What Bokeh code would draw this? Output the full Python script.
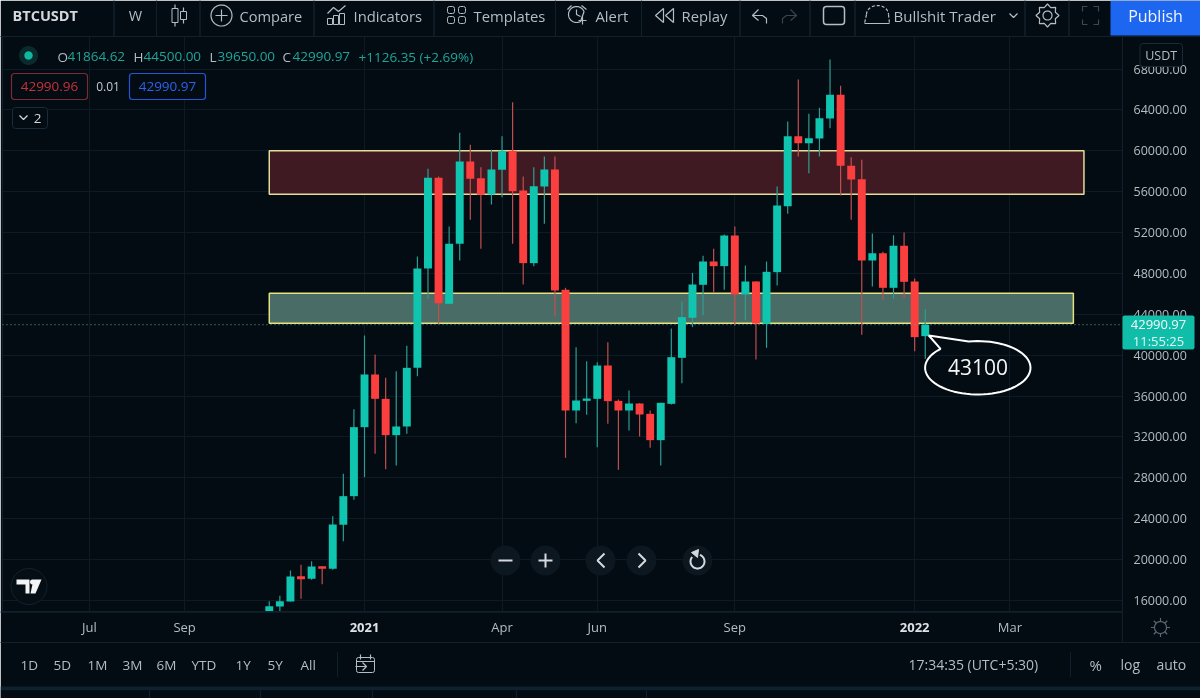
import numpy as np
import pandas as pd
from bokeh.embed import file_html
from bokeh.resources import INLINE
from bokeh.plotting import figure
from bokeh.models import (Range1d, LinearAxis, FixedTicker, NumeralTickFormatter, ColumnDataSource,
                          Label, BoxAnnotation, PolyAnnotation, Span, Grid)

# ---------- data ----------
start_week = "2020-11-02"
highs = [15935,16457,18936,19491,19850,19360,24253,28396,34724,41933,40074,37791,38443,40922,49664,58243,57493,52600,61766,60592,
         58406,60103,61440,64767,57493,58406,59450,59450,46597,40791,39421,39323,41280,35670,36550,35311,34593,35343,42618,45260,
         48065,49729,50414,51817,52600,48783,47250,49174,56514,62875,66985,63625,64212,68942,66365,59385,59124,51915,50121,51752,
         52012,47511,44500]
lows = [14957,14957,15903,16163,18023,17599,19001,21807,25852,28070,30353,28853,29211,32310,37954,45521,43075,45032,49273,53252,
        50414,54753,55471,50904,46924,48718,52861,43793,29961,33354,34169,31005,33288,28787,32636,32049,30940,29211,35180,37268,
        42748,43923,46141,46402,42911,43401,39584,40726,46826,53839,59450,57819,59450,62223,55633,53252,41998,46728,45423,45521,
        45619,40400,39650]
opens = [14957,15413,15903,18382,18121,19360,19099,23405,26210,32963,38117,35735,32180,33028,38769,48490,57363,45032,50904,58961,
         57330,55732,58145,60005,56123,49012,56514,58178,46402,34593,35539,35735,38997,35539,34593,35278,34267,31690,35246,39747,
         43662,46891,49174,48718,51719,45945,47217,43074,48131,54589,61440,60755,61211,63169,65485,58536,57232,49272,49990,46598,
         50708,47217,41864.62]
closes = [15446,15935,18349,18088,19328,19099,23438,26210,32963,38117,35735,32180,33028,38769,48490,57363,45097,50904,58961,57265,
          55699,58178,60005,56058,49012,56547,58178,46337,34593,35572,35768,38997,35507,34593,35278,34202,31690,35343,39812,43727,
          46924,49174,48718,51719,45945,47217,43107,48163,54655,61440,60755,61244,63201,65485,58536,57199,49272,49990,46598,50708,
          47185,41770,42990.97]
price_ticks = list(range(16000, 68001, 4000))
month_ticks = {"2020-07-06": "Jul", "2020-09-07": "Sep", "2021-04-05": "Apr", "2021-06-07": "Jun",
               "2021-09-06": "Sep", "2022-03-07": "Mar"}
year_ticks = {"2021-01-04": "2021", "2022-01-03": "2022"}
red_zone = ("2020-11-02", "2022-04-25", 60000, 55760)
green_zone = ("2020-11-02", "2022-04-18", 46073, 43137)
last_price = 42990.97

BG = "#030b13"; GRID = "#0e1a24"; SEP = "#12202b"
TXT = "#b4bcc4"; GREEN = "#0fc5af"; RED = "#fb3f3f"; WG = "#2c9d92"; WR = "#c24f4f"
FONT = "Open Sans"

def ms(s):
    return pd.Timestamp(s).value / 1e6

DAY = 86400000.0
dates = pd.date_range(start_week, periods=len(opens), freq="7D")
xs = np.array([ms(d) for d in dates])
is_up = np.array(closes) >= np.array(opens)

p = figure(width=1200, height=698, output_backend="svg", toolbar_location=None,
           x_range=Range1d(ms("2021-01-04") - 239.5 * DAY, ms("2021-01-04") + 501.5 * DAY),
           y_range=Range1d(14924, 71190), x_axis_type=None, y_axis_type=None,
           min_border_left=2, min_border_right=78, min_border_top=36, min_border_bottom=87,
           background_fill_color=BG, border_fill_color=BG, outline_line_color=SEP)
p.styles = {"position": "fixed", "left": "0", "top": "0"}

yax = LinearAxis(ticker=FixedTicker(ticks=price_ticks), formatter=NumeralTickFormatter(format="0.00"),
                 major_label_text_color=TXT, major_label_text_font=FONT, major_label_text_font_size="12.5px",
                 major_tick_line_color=None, minor_tick_line_color=None, axis_line_color=SEP,
                 major_label_standoff=5)
p.add_layout(yax, "right")

all_date_ticks = [ms(k) for k in month_ticks] + [ms(k) for k in year_ticks]
xax = LinearAxis(ticker=FixedTicker(ticks=[ms(k) for k in month_ticks]),
                 major_label_overrides={ms(k): v for k, v in month_ticks.items()},
                 major_label_text_color=TXT, major_label_text_font=FONT, major_label_text_font_size="13px",
                 major_tick_line_color=None, minor_tick_line_color=None, axis_line_color=None, major_label_standoff=0)
p.add_layout(xax, "below")
xax2 = LinearAxis(ticker=FixedTicker(ticks=[ms(k) for k in year_ticks]),
                  major_label_overrides={ms(k): v for k, v in year_ticks.items()},
                  major_label_text_color="#dfe3e6", major_label_text_font=FONT, major_label_text_font_size="13px",
                  major_label_text_font_style="bold",
                  major_tick_line_color=None, minor_tick_line_color=None, axis_line_color=None, major_label_standoff=-22)
p.add_layout(xax2, "below")

p.add_layout(Grid(dimension=0, ticker=FixedTicker(ticks=all_date_ticks), grid_line_color=GRID))
p.add_layout(Grid(dimension=1, ticker=FixedTicker(ticks=price_ticks), grid_line_color=GRID))

# zones
for z, fc, lc in ((red_zone, "#401a22", "#e4dc9a"), (green_zone, "#4a6c67", "#e3e27e")):
    p.quad(left=[ms(z[0])], right=[ms(z[1])], top=[z[2]], bottom=[z[3]], fill_color=fc, line_color=lc, line_width=1.5)

p.add_layout(Span(location=last_price, dimension="width", line_color="#5aa79d", line_dash="1 3", line_width=1))

# candles
src = ColumnDataSource(dict(x=xs, h=highs, l=lows, t=np.maximum(opens, closes), b=np.minimum(opens, closes),
                            wc=[WG if u else WR for u in is_up], fc=[GREEN if u else RED for u in is_up]))
p.segment(x0="x", x1="x", y0="l", y1="h", line_color="wc", line_width=1.2, source=src)
p.vbar(x="x", top="t", bottom="b", width=7 * DAY * 0.75, fill_color="fc", line_color=None, source=src)

# ---------- interface overlay: a transparent figure over the whole window ----------
q = figure(width=1200, height=698, output_backend="svg", toolbar_location=None,
           x_range=Range1d(0, 1200), y_range=Range1d(698, 0), x_axis_type=None, y_axis_type=None,
           min_border=0, background_fill_color=None, border_fill_color=None, outline_line_color=None)
q.styles = {"position": "fixed", "left": "0", "top": "0", "pointer-events": "none"}

def T(x, y, text, size=14.5, color=TXT, align="left", style="normal", font=FONT):
    q.add_layout(Label(x=x, y=y, x_units="canvas", y_units="canvas", text=text, text_font=font,
                       text_font_size=f"{size}px", text_color=color, text_align=align,
                       text_baseline="middle", text_font_style=style))

def B(l, t, r, b, fill=None, line=None, width=1, radius=0):
    q.add_layout(BoxAnnotation(left=l, right=r, top=t, bottom=b, left_units="canvas", right_units="canvas",
                               top_units="canvas", bottom_units="canvas", fill_color=fill, fill_alpha=1 if fill else 0,
                               line_color=line, line_alpha=1 if line else 0, line_width=width,
                               border_radius=radius, level="annotation"))

def POLY(x, y, fill=None, line=TXT, width=1.2, dash="solid"):
    q.add_layout(PolyAnnotation(xs=list(x), ys=list(y), xs_units="canvas", ys_units="canvas",
                                fill_color=fill, fill_alpha=1 if fill else 0, line_color=line,
                                line_alpha=1 if line else 0, line_width=width, line_dash=dash, level="annotation"))

def PL(x, y, line=TXT, width=1.2, dash="solid"):
    x, y = list(x), list(y)
    POLY(x + x[::-1], y + y[::-1], None, line, width, dash)

def C(cx, cy, r, fill=None, line=TXT, width=1.2, a0=0, a1=360, dash="solid"):
    t = np.radians(np.linspace(a0, a1, 40))
    POLY(cx + r * np.cos(t), cy + r * np.sin(t), fill, line, width, dash)

# chrome bars
PL([0, 1200], [36, 36], SEP, 1)
PL([0, 1122], [611.5, 611.5], SEP, 1)
PL([0, 1200], [642, 642], SEP, 1)
PL([1122, 1122], [612, 642], SEP, 1)
B(0, 686, 1200, 690, "#0d2130", None)
B(0, 690, 1200, 698, "#040b12", None)
for x in (149, 260, 372, 516, 646):
    PL([x, x], [690, 698], "#0d2130", 1)
for x in (113.5, 156, 199.5, 313.5, 433.5, 555, 641, 739.5, 809.5, 854.5, 1024.5, 1068.5):
    PL([x, x], [0, 36], SEP, 1)
for x in (337, 1070):
    PL([x, x], [652, 676], SEP, 1)

# top bar texts
T(12, 15, "BTCUSDT", 14.5, "#d4d8dc", style="bold")
T(135, 15, "W", 14.5, TXT, "center")
T(239, 15, "Compare", 14.6)
T(353, 15, "Indicators", 14.8)
T(473, 15, "Templates", 14.8)
T(595, 15, "Alert", 14.8)
T(681, 15, "Replay", 14.8)
T(893, 15, "Bullshit Trader", 15)
B(1110, 0, 1200, 35, "#1d66f0", None)
T(1155, 15, "Publish", 16, "#f2f5fb", "center")

# top bar icons
PL([174.5, 174.5], [4, 8]); B(171.5, 8, 177.5, 22, None, TXT); PL([174.5, 174.5], [22, 26])
PL([183, 183], [7, 11]); B(180, 11, 186, 19, None, TXT); PL([183, 183], [19, 23])
C(221, 15, 10.5); PL([215, 227], [15, 15]); PL([221, 221], [9, 21])
PL([327, 333, 338, 345], [13, 7, 11, 5])
for l, tp in ((327, 18), (333, 15), (339, 13)):
    B(l, tp, l + 5, 24, None, TXT)
for l, tp in ((447, 6), (458, 6), (447, 16), (458, 16)):
    B(l, tp, l + 7, tp + 7, None, TXT, 1, 2)
C(576, 14, 8, a0=60, a1=340); PL([576, 576, 580], [9, 14, 16]); PL([582, 582], [15, 24]); PL([578, 586], [20, 20])
PL([567, 571], [9, 5]); PL([581, 586], [5, 9])
POLY([655, 663, 663], [15, 8, 22]); POLY([665, 673, 673], [15, 8, 22])
PL([758, 752, 758], [9, 15, 20]); PL([752, 762, 766, 766], [15, 15, 18, 23])
PL([790, 796, 790], [9, 15, 20], "#3b444c"); PL([796, 786, 782, 782], [15, 15, 18, 23], "#3b444c")
B(823, 6, 844, 24, None, TXT, 1.5, 3)
PL(877 + 11 * np.cos(np.radians(np.linspace(180, 360, 20))), 14 + 9 * np.sin(np.radians(np.linspace(180, 360, 20))), TXT, 1.2, "3 2")
PL([864, 889], [23, 23], TXT, 1.2, "3 2"); PL([866, 864], [14, 23], TXT, 1.2, "3 2"); PL([888, 889], [14, 23], TXT, 1.2, "3 2")
PL([1009, 1013, 1017], [13, 17, 13])
C(1047, 15, 4.5)
t = np.radians(np.arange(0, 360, 22.5))
rr = np.where(np.arange(16) % 2 == 0, 11.5, 8.5)
POLY(1047 + rr * np.cos(t), 15 + rr * np.sin(t))
F = "#3f4850"
PL([1082, 1082, 1087], [11, 6, 6], F); PL([1093, 1098, 1098], [6, 6, 11], F)
PL([1082, 1082, 1087], [19, 24, 24], F); PL([1093, 1098, 1098], [24, 24, 19], F)

# legend
C(28, 55, 9.5, "#0a2a2c", None); C(28, 55, 4.2, "#10b89f", None)
LG = "#1fa598"
T(57, 56, "O", 13.5, TXT); T(67, 56, "41864.62", 13.5, LG)
T(133, 56, "H", 13.5, TXT); T(143, 56, "44500.00", 13.5, LG)
T(209, 56, "L", 13.5, TXT); T(217, 56, "39650.00", 13.5, LG)
T(282, 56, "C", 13.5, TXT); T(292, 56, "42990.97", 13.5, LG)
T(358, 56, "+1126.35 (+2.69%)", 13.5, LG)
B(11, 73, 87, 99, BG, "#7d2a30", 1.2, 3); T(49, 86, "42990.96", 13.5, "#c9323a", "center")
T(107.5, 86, "0.01", 12, "#c6cbd0", "center")
B(129, 73, 205, 99, BG, "#2456d8", 1.2, 3); T(167, 86, "42990.97", 13.5, "#2b63ee", "center")
B(12, 107, 47, 128, BG, "#1a2b38", 1, 3); PL([19, 23, 27], [115, 119, 115], "#d5d9dd"); T(37, 117.5, "2", 13.5, "#d5d9dd", "center")

# nav buttons
for cx in (505, 545, 600, 641, 697):
    C(cx, 560, 15, "#0c1720", None)
PL([498, 512], [560, 560], "#d5d9dd", 2)
PL([538, 552], [560, 560], "#d5d9dd", 2); PL([545, 545], [553, 567], "#d5d9dd", 2)
PL([604, 597, 604], [553, 560, 567], "#d5d9dd", 2)
PL([638, 645, 638], [553, 560, 567], "#d5d9dd", 2)
t = np.radians(np.linspace(-70, 220, 30))
PL(697 + 7 * np.cos(t), 561 + 7 * np.sin(t), "#d5d9dd", 2)
POLY([691, 698, 697], [552, 549, 557], "#d5d9dd", "#d5d9dd", 1)

# TV logo
C(28.5, 586, 18, "#050d15", "#15222c", 1)
POLY([16, 29, 29, 25, 25, 20, 20, 16], [579, 579, 593, 593, 584, 584, 584, 584], "#f2f4f5", None)
C(32, 581.5, 2.5, "#f2f4f5", None)
POLY([33, 41, 35, 30], [579, 579, 593, 593], "#f2f4f5", None)

# sun icon
C(1160, 627, 6, None, "#5b6670")
for a in range(0, 360, 45):
    r = np.radians(a)
    PL([1160 + 6 * np.cos(r), 1160 + 9.5 * np.cos(r)], [627 + 6 * np.sin(r), 627 + 9.5 * np.sin(r)], "#5b6670")

# price axis tags
B(1139.5, 43, 1182, 66, BG, "#1a2a36", 1, 3); T(1160.7, 55, "USDT", 12.5, TXT, "center")
B(1122, 315, 1194, 349, "#10bda9", None, 1, 2)
T(1158, 324, "42990.97", 13, "#f5fbfa", "center")
T(1158, 340, "11:55:25", 13, "#dff6f2", "center")

# bottom bar
for x, s in ((20, "1D"), (53, "5D"), (87, "1M"), (122, "3M"), (156, "6M"), (191, "YTD"), (235, "1Y"), (267, "5Y"), (300, "All")):
    T(x, 664, s, 13.5)
B(356, 657, 374, 672, None, TXT, 1, 2); PL([356, 374], [661, 661]); PL([360, 360], [654, 659]); PL([370, 370], [654, 659])
PL([355, 366], [666, 666]); PL([362, 366, 362], [662, 666, 670])
T(908, 664, "17:34:35 (UTC+5:30)", 14)
T(1089, 664, "%", 15); T(1120, 664, "log", 14); T(1156, 664, "auto", 14)

# callout
cx, cy, rx, ry = 977.3, 367.3, 52.7, 26.7
a = np.radians(np.linspace(-100, 225, 70))
ex = (cx + rx * np.cos(a)).tolist()
ey = (cy + ry * np.sin(a)).tolist()
POLY(ex + [928.3], ey + [335], None, "#ffffff", 2)
T(977.5, 366.5, "43100", 21, "#f6f6f6", "center")

open("out.html", "w").write(file_html([p, q], INLINE))
